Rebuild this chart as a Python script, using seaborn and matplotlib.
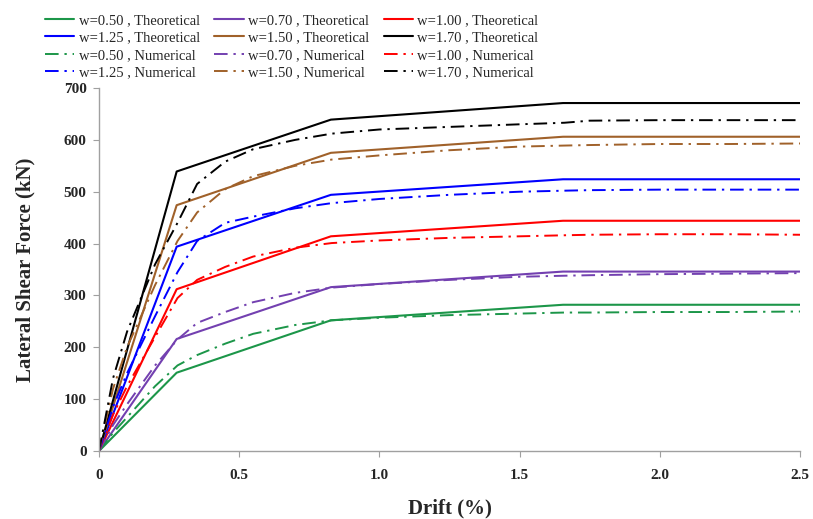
import matplotlib
matplotlib.use("Agg")
import matplotlib.pyplot as plt
import seaborn as sns
import pandas as pd

sns.set_theme(style="white")
plt.rcParams["font.family"] = ["Liberation Serif", "DejaVu Serif"]

# Wall aspect ratios and their colours
w_labels = ["0.50", "0.70", "1.00", "1.25", "1.50", "1.70"]
colors = ["#1c9649", "#7340b0", "#ff0000", "#0000ff", "#a0612a", "#000000"]

# Theoretical (trilinear) capacity curves
theo_drift = [0.0, 0.277, 0.827, 1.655, 2.5]
theo_force = {
    "0.50": [0, 151, 252, 282, 282],
    "0.70": [0, 216, 316, 346, 346],
    "1.00": [0, 312, 414, 444, 444],
    "1.25": [0, 394, 494, 524, 524],
    "1.50": [0, 474, 575, 606, 606],
    "1.70": [0, 539, 639, 671, 671],
}

# Numerical (pushover) curves
num_drift = [0.0, 0.05, 0.1, 0.2, 0.28, 0.35, 0.45, 0.55, 0.7, 0.83,
             1.0, 1.25, 1.5, 1.66, 1.75, 2.0, 2.25, 2.5]
num_force = {
    "0.50": [0, 35, 65, 125, 165, 185, 207, 226, 243, 252,
             257, 262, 265, 267, 267, 268, 268, 269],
    "0.70": [0, 50, 90, 165, 215, 247, 268, 287, 305, 315,
             322, 330, 336, 338, 339, 341, 342, 343],
    "1.00": [0, 70, 125, 220, 295, 330, 355, 375, 392, 401,
             406, 411, 414, 416, 417, 418, 418, 417],
    "1.25": [0, 85, 150, 260, 345, 405, 440, 452, 468, 478,
             486, 494, 500, 502, 503, 504, 504, 504],
    "1.50": [0, 120, 200, 320, 405, 460, 505, 530, 550, 562,
             570, 580, 587, 589, 590, 592, 592, 593],
    "1.70": [0, 140, 230, 360, 440, 515, 558, 582, 600, 612,
             620, 625, 630, 633, 637, 638, 638, 638],
}

x_ticks = [0, 0.5, 1.0, 1.5, 2.0, 2.5]
x_tick_labels = ["0", "0.5", "1.0", "1.5", "2.0", "2.5"]
y_ticks = [0, 100, 200, 300, 400, 500, 600, 700]

fig = plt.figure(figsize=(8.13, 5.19), dpi=100)
ax = fig.add_axes([99 / 813, 1 - 451 / 519, 701 / 813, 363 / 519])

dashdot = (0, (7, 3, 1.2, 3))
handles = {}
for w, c in zip(w_labels, colors):
    df = pd.DataFrame({"drift": theo_drift, "force": theo_force[w]})
    sns.lineplot(data=df, x="drift", y="force", ax=ax, color=c, lw=1.5,
                 sort=False, estimator=None, legend=False)
    ax.lines[-1].set_label(f"w={w} , Theoretical")
    handles[("T", w)] = ax.lines[-1]
for w, c in zip(w_labels, colors):
    df = pd.DataFrame({"drift": num_drift, "force": num_force[w]})
    sns.lineplot(data=df, x="drift", y="force", ax=ax, color=c, lw=1.4,
                 sort=False, estimator=None, linestyle=dashdot, legend=False)
    ax.lines[-1].set_label(f"w={w} , Numerical")
    handles[("N", w)] = ax.lines[-1]
if ax.get_legend() is not None:
    ax.get_legend().remove()

ax.set_xlim(0, 2.5)
ax.set_ylim(0, 700)
ax.set_xticks(x_ticks)
ax.set_xticklabels(x_tick_labels)
ax.set_yticks(y_ticks)
for lab in ax.get_xticklabels() + ax.get_yticklabels():
    lab.set_fontweight("bold")
    lab.set_fontsize(11)
ax.tick_params(axis="both", direction="out", length=4, width=0.8,
               color="#a0a0a0", pad=5, bottom=True, left=True)
ax.tick_params(axis="x", pad=9)
sns.despine(ax=ax)
for s in ["left", "bottom"]:
    ax.spines[s].set_color("#a0a0a0")
    ax.spines[s].set_linewidth(1.0)

ax.set_xlabel("Drift (%)", fontsize=15, fontweight="bold", labelpad=12)
ax.set_ylabel("Lateral Shear Force (kN)", fontsize=15, fontweight="bold", labelpad=20)

# Legend rows: theoretical sets first, then numerical sets
rows = [("T", w_labels[0:3]), ("T", w_labels[3:6]),
        ("N", w_labels[0:3]), ("N", w_labels[3:6])]
grid = [[handles[(k, w)] for w in ws] for k, ws in rows]
ordered = [grid[r][c] for c in range(3) for r in range(4)]
leg = fig.legend(handles=ordered, labels=[h.get_label() for h in ordered],
                 ncol=3, loc="upper left", bbox_to_anchor=(45 / 813, 1 - 14 / 519),
                 frameon=False, fontsize=10.5, handlelength=2.0,
                 handletextpad=0.3, columnspacing=1.0, labelspacing=0.28,
                 borderaxespad=0, borderpad=0)

fig.savefig("out.png", dpi=100)
